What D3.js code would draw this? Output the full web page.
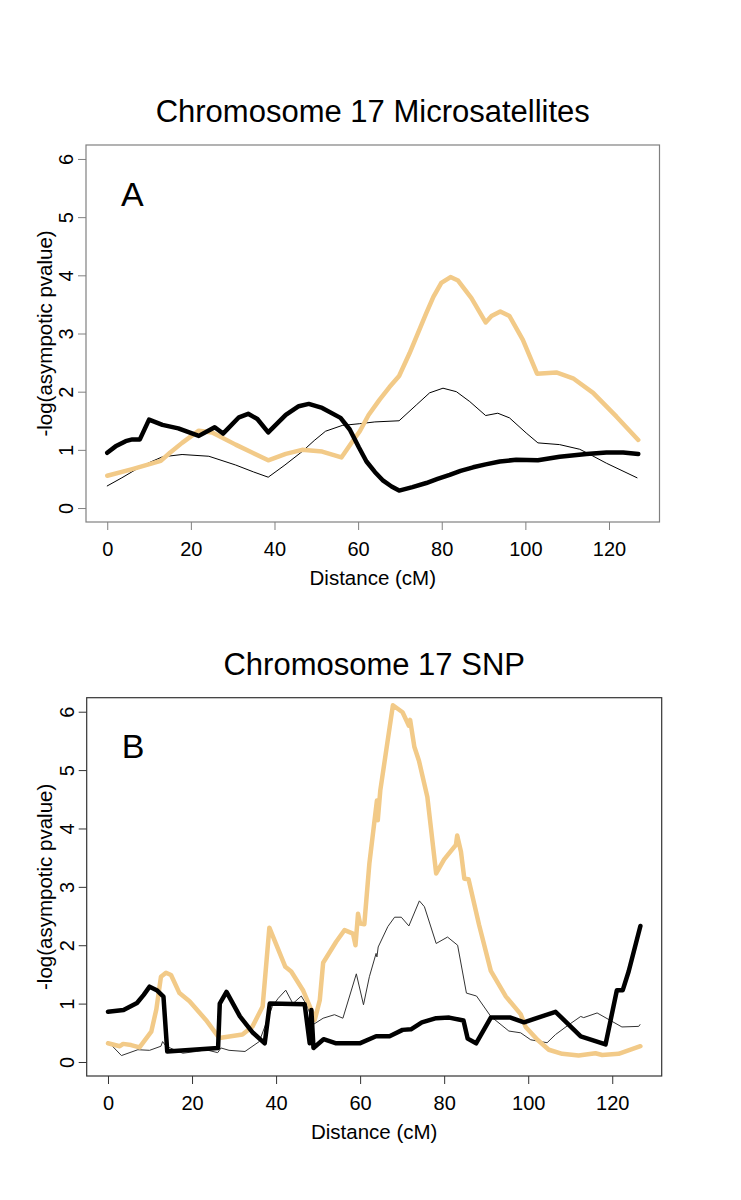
<!DOCTYPE html>
<html>
<head>
<meta charset="utf-8">
<script src="https://cdn.jsdelivr.net/npm/d3@7"></script>
<style>
body { margin: 0; background: #fff; }
text { font-family: "Liberation Sans", Arial, sans-serif; fill: #000; }
</style>
</head>
<body>
<div id="chart"></div>
<script>
var width = 741, height = 1200;

// axis setup
var xTicks = [0, 20, 40, 60, 80, 100, 120];
var yTicks = [0, 1, 2, 3, 4, 5, 6];
var titles = ["Chromosome 17 Microsatellites", "Chromosome 17 SNP"];
var letters = ["A", "B"];
var xLabel = "Distance (cM)";
var yLabel = "-log(asympotic pvalue)";

// Panel A, microsatellites: [distance cM, -log p]
var msatThin = [[0,0.38],[3.5,0.52],[6.8,0.66],[10,0.78],[13.2,0.88],[17.9,0.92],[24.3,0.89],[30.7,0.74],[35,0.62],[38.5,0.53],
  [42.5,0.74],[46.6,0.97],[49.5,1.16],[52.2,1.32],[56.2,1.42],[60.4,1.45],[64,1.48],[69.8,1.50],[73.9,1.77],[77.1,1.98],
  [80.3,2.06],[83.5,2.0],[86.7,1.83],[90.5,1.59],[93.4,1.63],[96.2,1.55],[100.2,1.29],[103,1.12],[108.2,1.09],[113,1.01],
  [116,0.9],[119.4,0.77],[126.7,0.52]];
var msatOrange = [[0,0.555],[6,0.67],[12.8,0.81],[15,0.95],[17.9,1.12],[21.9,1.33],[25.1,1.30],[30.7,1.09],[34.5,0.96],[38.5,0.82],
  [42.7,0.93],[46.6,1.0],[51.4,0.97],[56,0.87],[58.6,1.14],[60.4,1.32],[62.5,1.6],[65.1,1.86],[67.5,2.08],[69.8,2.27],
  [72.3,2.66],[76.3,3.35],[78,3.63],[79.9,3.87],[82.1,3.97],[83.9,3.91],[87.1,3.61],[90.5,3.19],[91.9,3.30],[94,3.38],
  [96.2,3.30],[99.4,2.89],[102.8,2.31],[107.4,2.33],[111.4,2.23],[116.2,1.98],[121.8,1.57],[127,1.17]];
var msatThick = [[0,0.95],[2,1.06],[4.4,1.15],[6,1.18],[7.8,1.18],[10,1.52],[13.2,1.43],[17,1.37],[21.9,1.24],[25.7,1.39],
  [27.7,1.28],[31.5,1.56],[33.7,1.62],[35.9,1.53],[38.5,1.30],[42.7,1.60],[45.8,1.75],[48.2,1.79],[51.4,1.72],[55.8,1.55],
  [58,1.35],[60.2,1.04],[62,0.80],[64,0.62],[66,0.47],[68,0.37],[69.8,0.30],[73,0.36],[76.3,0.43],[79,0.50],[81.9,0.57],
  [84.5,0.64],[87.5,0.70],[90.5,0.75],[93.9,0.80],[97.8,0.83],[103,0.82],[108.2,0.88],[114.6,0.93],[119.4,0.955],
  [123.4,0.955],[127,0.93]];

// Panel B, SNP
var snpThin = [[0,0.35],[3.2,0.11],[7.1,0.21],[9.9,0.20],[12.6,0.27],[13,0.35],[13.8,0.27],[17.8,0.15],[21,0.18],[23.3,0.21],
  [26.1,0.16],[26.9,0.24],[28.8,0.20],[32.6,0.18],[36,0.35],[39.1,0.95],[40.5,1.09],[42.3,1.23],[44,1.0],[46,1.13],
  [47.5,0.95],[48.8,0.64],[51.2,0.75],[53.9,0.81],[55.9,0.75],[59.1,1.51],[60.8,0.98],[62.2,1.46],[63.8,1.86],[64.0,1.80],
  [64.3,1.97],[66.6,2.32],[68.2,2.48],[69.8,2.48],[71.6,2.33],[74.1,2.76],[75.3,2.66],[78.1,2.03],[80.8,2.14],[83.2,2.0],
  [85.3,1.18],[87.7,1.13],[91.1,0.78],[95.4,0.53],[98.2,0.50],[100.6,0.38],[104.5,0.33],[106.5,0.47],[109.7,0.64],
  [112.5,0.78],[113.2,0.76],[116.4,0.84],[122.3,0.60],[126.3,0.61],[126.6,0.64]];
var snpOrange = [[0,0.32],[2.8,0.27],[3.6,0.31],[5.5,0.29],[7.5,0.25],[10.3,0.52],[11.5,0.9],[12.6,1.46],[13.8,1.53],[15,1.49],
  [17,1.18],[19.4,1.04],[23.3,0.72],[26.5,0.41],[32,0.47],[34.4,0.61],[36.8,0.95],[38.4,2.3],[42.2,1.63],[43.6,1.55],
  [46.4,1.23],[48.4,0.89],[49.2,0.72],[50.4,1.06],[51.2,1.70],[54.3,2.06],[56.3,2.26],[58.3,2.20],[58.9,2.0],[59.5,2.54],
  [60,2.37],[61,2.36],[62.2,3.40],[64,4.48],[64.2,4.14],[64.8,4.65],[67.8,6.11],[70.1,5.99],[71.6,5.76],[71.9,5.86],
  [72.9,5.40],[74,5.16],[76,4.54],[78.1,3.23],[80,3.47],[82.8,3.72],[83.1,3.88],[84,3.6],[84.8,3.14],[85.8,3.13],
  [88.3,2.35],[91.1,1.56],[94.7,1.12],[98.2,0.82],[99.4,0.6],[102.2,0.38],[104.9,0.21],[108.1,0.14],[112,0.11],[116,0.15],
  [117.6,0.12],[121.5,0.14],[126.7,0.27]];
var snpThick = [[0,0.86],[3.7,0.89],[6.9,1.01],[8.5,1.15],[9.9,1.29],[11.6,1.23],[13.2,1.12],[14.1,0.18],[26.2,0.24],[26.6,1.0],
  [28.2,1.2],[31.4,0.78],[34.5,0.50],[37.3,0.32],[38.5,1.0],[46.8,0.99],[48,0.32],[48.4,0.89],[48.9,0.24],[51.3,0.39],
  [54.3,0.32],[59.9,0.32],[63.8,0.44],[67,0.44],[70.1,0.55],[72.1,0.56],[74.7,0.68],[78.1,0.75],[81.2,0.76],[84.6,0.71],
  [85.6,0.40],[87.6,0.32],[91.1,0.76],[95.8,0.76],[99,0.68],[106.5,0.86],[112.5,0.44],[118.4,0.30],[121.1,1.23],
  [122.5,1.23],[123.9,1.55],[126.7,2.33]];

var orange = "#F2CA88";

var panels = [
  {left: 86, right: 659.5, top: 145, bottom: 522, frame: "#808080", thinColor: "#000",
   series: [msatThin, msatOrange, msatThick]},
  {left: 86.7, right: 661.7, top: 697.7, bottom: 1076, frame: "#333", thinColor: "#333",
   series: [snpThin, snpOrange, snpThick]}
];

var svg = d3.select("#chart")
            .append("svg")
            .attr("width", width)
            .attr("height", height);

panels.forEach(function(p, i) {
    var all = p.series[0].concat(p.series[1], p.series[2]);
    var xmax = d3.max(all, function(d) { return d[0]; });
    // R style 4% padding round the data
    var xScale = d3.scaleLinear()
                   .domain([-0.04 * xmax, xmax * 1.04])
                   .range([p.left, p.right]);
    var yScale = d3.scaleLinear()
                   .domain([-0.24, 6.24])
                   .range([p.bottom, p.top]);

    var g = svg.append("g");

    // x-axis
    var xa = g.append("g")
        .attr("transform", "translate(0," + p.bottom + ")")
        .call(d3.axisBottom(xScale).tickValues(xTicks).tickFormat(d3.format("d")).tickSize(8).tickPadding(12));
    xa.select(".domain").remove();
    xa.selectAll("line").attr("stroke", p.frame);
    xa.selectAll("text").attr("font-size", 20).attr("font-family", null);

    // y-axis, labels turned like R's las=0
    var ya = g.append("g")
        .attr("transform", "translate(" + p.left + ",0)")
        .call(d3.axisLeft(yScale).tickValues(yTicks).tickFormat(d3.format("d")).tickSize(8));
    ya.select(".domain").remove();
    ya.selectAll("line").attr("stroke", p.frame);
    ya.selectAll("text")
        .attr("font-size", 20)
        .attr("font-family", null)
        .attr("transform", "rotate(-90)")
        .attr("x", 0)
        .attr("y", -13)
        .attr("dy", 0)
        .attr("text-anchor", "middle");

    // lines
    var line = d3.line()
                 .x(function(d) { return xScale(d[0]); })
                 .y(function(d) { return yScale(d[1]); });
    var styles = [
        {color: p.thinColor, w: 1},
        {color: orange, w: 4.5},
        {color: "#000", w: 4.5}
    ];
    p.series.forEach(function(s, k) {
        g.append("path")
            .datum(s)
            .attr("d", line)
            .attr("fill", "none")
            .attr("stroke", styles[k].color)
            .attr("stroke-width", styles[k].w)
            .attr("stroke-linejoin", "round")
            .attr("stroke-linecap", "round");
    });

    // box
    g.append("rect")
        .attr("x", p.left)
        .attr("y", p.top)
        .attr("width", p.right - p.left)
        .attr("height", p.bottom - p.top)
        .attr("fill", "none")
        .attr("stroke", p.frame)
        .attr("stroke-width", 1.2);

    // titles and labels
    g.append("text")
        .attr("x", (p.left + p.right) / 2)
        .attr("y", p.top - 23)
        .attr("text-anchor", "middle")
        .attr("font-size", 31)
        .text(titles[i]);
    g.append("text")
        .attr("x", p.left + 35)
        .attr("y", p.top + (i == 0 ? 61 : 60))
        .attr("font-size", 34)
        .text(letters[i]);
    g.append("text")
        .attr("x", (p.left + p.right) / 2)
        .attr("y", p.bottom + 63)
        .attr("text-anchor", "middle")
        .attr("font-size", 20.5)
        .text(xLabel);
    g.append("text")
        .attr("transform", "translate(52," + (p.top + p.bottom) / 2 + ") rotate(-90)")
        .attr("text-anchor", "middle")
        .attr("font-size", 20.5)
        .text(yLabel);
});
</script>
</body>
</html>
